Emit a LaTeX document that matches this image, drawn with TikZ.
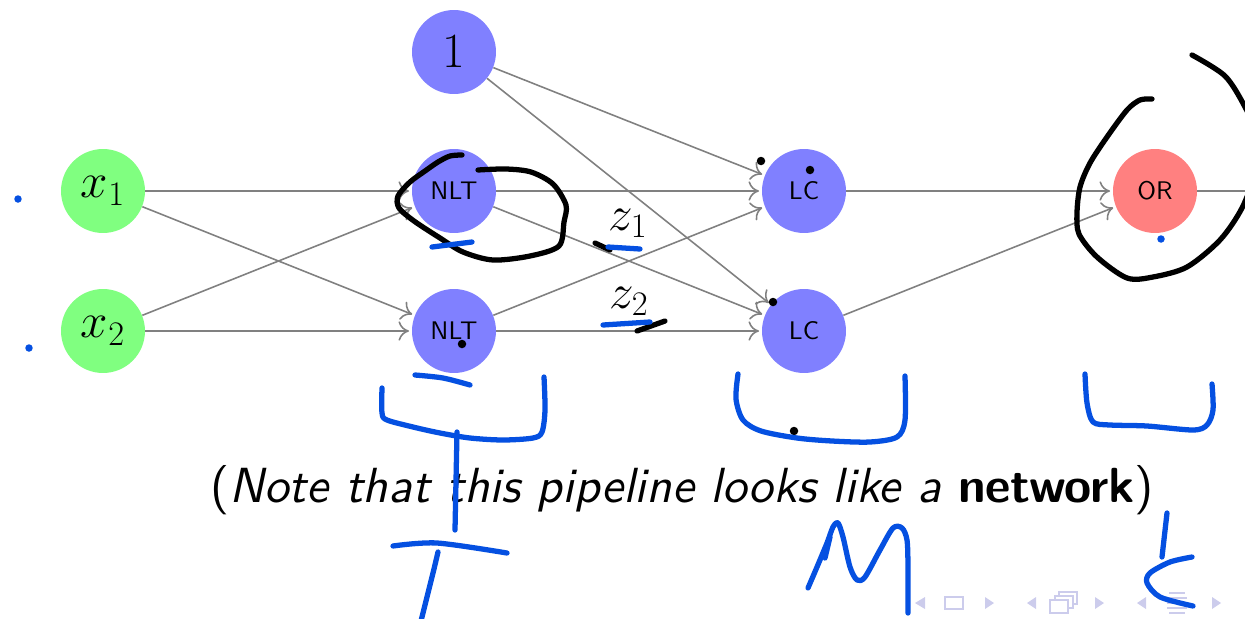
\RequirePackage{fix-cm}
\documentclass[tikz,border=0pt]{standalone}
\usepackage{fontspec}
\setsansfont{lmsans10-regular.otf}[BoldFont=lmsans10-bold.otf,ItalicFont=lmsans10-oblique.otf,BoldItalicFont=lmsans10-boldoblique.otf]
\usetikzlibrary{arrows.meta}
\definecolor{penblue}{RGB}{5,80,225}
\definecolor{navgray}{RGB}{204,204,236}
\begin{document}
\begin{tikzpicture}[x=0.02cm,y=-0.02cm,
	neuron/.style={circle,minimum size=1.68cm,inner sep=0pt},
	inputnode/.style={neuron,fill=green!50,font=\fontsize{28}{30}\selectfont},
	biasnode/.style={neuron,fill=blue!50,font=\fontsize{28}{30}\selectfont},
	hidden/.style={neuron,fill=blue!50,font=\sffamily\fontsize{14.5}{16}\selectfont},
	ornode/.style={neuron,fill=red!50,font=\sffamily\fontsize{14.5}{16}\selectfont},
	zlabel/.style={anchor=base,inner sep=0pt,font=\fontsize{28}{30}\selectfont},
	link/.style={draw=gray,line width=0.9pt,-{To[length=6pt,width=11pt]},shorten >=1.5pt},
	ink/.style={line width=3pt,line cap=round,line join=round},
	navtri/.style={fill=navgray,draw=none},
	navbox/.style={draw=navgray,line width=0.9pt,fill=white},
	]
\clip (0,0) rectangle (1245,619);
\node[biasnode] (one) at (454,52) {$1$};
\node[inputnode] (x1) at (103,191) {$x_1$};
\node[inputnode] (x2) at (103,331) {$x_2$};
\node[hidden] (nlt1) at (454,191) {NLT};
\node[hidden] (nlt2) at (454,331) {NLT};
\node[hidden] (lc1) at (804,191) {LC};
\node[hidden] (lc2) at (804,331) {LC};
\node[ornode] (or) at (1155,191) {OR};
\coordinate (exit) at (1250,191);
\node[zlabel] (z1) at (628,230) {$z_1$};
\node[zlabel] (z2) at (629,308) {$z_2$};
\node[anchor=base,font=\sffamily\fontsize{28.1}{32}\selectfont] (note) at (682,502)
	{(\textit{Note that this pipeline looks like a} \textbf{network})};

\foreach \a in {x1,x2}
	\foreach \b in {nlt1,nlt2}
		\draw[link] (\a) -- (\b);
\foreach \a in {one,nlt1,nlt2}
	\foreach \b in {lc1,lc2}
		\draw[link] (\a) -- (\b);
\foreach \a in {lc1,lc2}
	\draw[link] (\a) -- (or);
\draw[gray,line width=0.9pt] (or) -- (exit);

% navigation symbols
\fill[navtri] (915,603) -- (925,597) -- (925,609) -- cycle;
\draw[navbox] (945,597) rectangle (963,609);
\fill[navtri] (985,597) -- (994,603) -- (985,609) -- cycle;
\fill[navtri] (1027,603) -- (1036,597) -- (1036,609) -- cycle;
\draw[navbox] (1059,592) rectangle (1077,604);
\draw[navbox] (1055,596) rectangle (1073,608);
\draw[navbox] (1050,600) rectangle (1068,613);
\fill[navtri] (1095,597) -- (1104,603) -- (1095,609) -- cycle;
\fill[navtri] (1137,603) -- (1146,597) -- (1146,609) -- cycle;
\foreach \yy/\w in {593/8,598/10,603/10,608/10,613/8}
	\draw[navgray,line width=1.2pt] (1177-\w,\yy) -- (1177+\w,\yy);
\fill[navtri] (1212,597) -- (1221,603) -- (1212,609) -- cycle;

% ink: black
\draw[ink] plot[smooth] coordinates {(462,155) (450,156) (438,162) (425,171) (410,182) (398,196) (399,208) (414,221) (440,238) (463,252) (493,260) (530,256) (559,246) (564,222) (566,205) (553,184) (531,172) (506,169) (478,170)};
\draw[ink] (595,243) -- (610,250);
\draw[ink] (637,331) -- (665,321);
\draw[ink] plot[smooth] coordinates {(1152,99) (1140,100) (1127,110) (1107,137) (1090,163) (1080,187) (1077,213) (1079,234) (1097,257) (1127,278) (1153,277) (1187,267) (1220,240) (1242,208) (1256,170) (1258,138) (1245,107) (1225,76) (1192,55)};
\foreach \p in {(761,161),(810,170),(773,302),(462,344),(794,431)}
	\fill \p circle[radius=0.085cm];

% ink: blue
\foreach \p in {(18,199),(29,348),(1161,239)}
	\fill[penblue] \p circle[radius=0.075cm];
\draw[ink,penblue] (432,247) -- (472,242);
\draw[ink,penblue] (608,247) -- (640,249);
\draw[ink,penblue] (603,325) -- (650,322);
\draw[ink,penblue] plot[smooth] coordinates {(382,388) (382,413) (387,420) (413,427) (440,433) (470,438) (503,440) (533,438) (542,432) (545,410) (544,377)};
\draw[ink,penblue] plot[smooth] coordinates {(415,375) (443,378) (470,385)};
\draw[ink,penblue] (457,432) -- (455,530);
\draw[ink,penblue] plot[smooth] coordinates {(393,546) (437,543) (507,553)};
\draw[ink,penblue] plot[smooth] coordinates {(438,552) (433,573) (420,625)};
\draw[ink,penblue] plot[smooth] coordinates {(738,374) (736,399) (743,420) (761,431) (797,438) (832,441) (870,442) (897,437) (905,420) (905,376)};
\draw[ink,penblue] plot[smooth] coordinates {(808,588) (817,567) (827,543) (833,527) (838,523) (843,537) (850,567) (857,580) (865,577) (880,550) (893,528) (902,528) (907,540) (908,567) (908,613)};
\draw[ink,penblue] (825,558) -- (830,537);
\draw[ink,penblue] plot[smooth] coordinates {(1085,374) (1087,403) (1093,422) (1110,425) (1147,426) (1193,430) (1207,425) (1213,410) (1212,384)};
\draw[ink,penblue] (1167,513) -- (1162,557);
\draw[ink,penblue] plot[smooth] coordinates {(1192,557) (1170,562) (1150,573) (1147,583) (1160,597) (1193,606)};
\end{tikzpicture}
\end{document}
